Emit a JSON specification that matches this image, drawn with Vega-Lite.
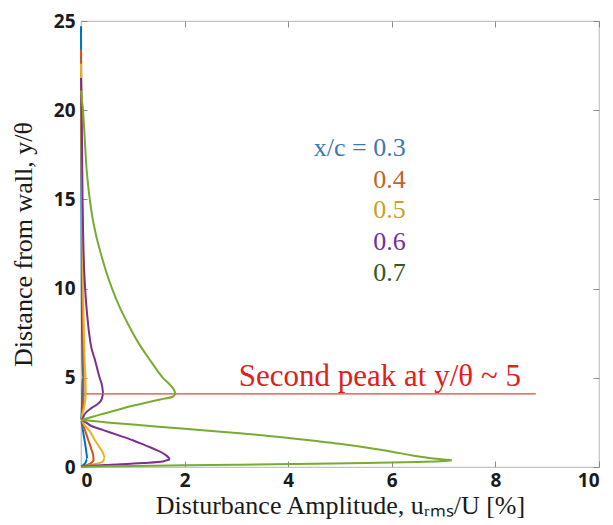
{
  "$schema": "https://vega.github.io/schema/vega-lite/v6.json",
  "autosize": {"type": "none"},
  "padding": {"left": 81, "top": 21, "right": 14, "bottom": 58},
  "width": 518,
  "height": 446,
  "background": "white",
  "view": {"stroke": "#c4c4c4", "strokeWidth": 1.2},
  "config": {
    "axis": {
      "grid": false,
      "domainColor": "#c4c4c4",
      "domainWidth": 1.2,
      "tickColor": "#8a8a8a",
      "tickSize": -6,
      "labelFont": "Open Sans",
      "labelFontWeight": "bold",
      "labelFontSize": 19,
      "labelColor": "#1a1a1a",
      "titleFont": "Liberation Serif",
      "titleFontWeight": "normal",
      "titleFontSize": 26,
      "titleColor": "#1a1a1a"
    }
  },
  "datasets": {
    "curves": [
      {"s": "0.3", "i": 0, "x": 0, "y": 24.7},
      {"s": "0.3", "i": 1, "x": 0.005, "y": 18},
      {"s": "0.3", "i": 2, "x": 0.015, "y": 10},
      {"s": "0.3", "i": 3, "x": 0.03, "y": 5},
      {"s": "0.3", "i": 4, "x": 0.02, "y": 3.5},
      {"s": "0.3", "i": 5, "x": 0, "y": 2.62},
      {"s": "0.3", "i": 6, "x": 0.04, "y": 2.0},
      {"s": "0.3", "i": 7, "x": 0.08, "y": 1.3},
      {"s": "0.3", "i": 8, "x": 0.11, "y": 0.7},
      {"s": "0.3", "i": 9, "x": 0.12, "y": 0.45},
      {"s": "0.3", "i": 10, "x": 0.08, "y": 0.2},
      {"s": "0.3", "i": 11, "x": 0, "y": 0.03},

      {"s": "0.4", "i": 0, "x": 0, "y": 23.4},
      {"s": "0.4", "i": 1, "x": 0.01, "y": 18},
      {"s": "0.4", "i": 2, "x": 0.03, "y": 10},
      {"s": "0.4", "i": 3, "x": 0.05, "y": 5},
      {"s": "0.4", "i": 4, "x": 0.05, "y": 4},
      {"s": "0.4", "i": 5, "x": 0.03, "y": 3.2},
      {"s": "0.4", "i": 6, "x": 0, "y": 2.62},
      {"s": "0.4", "i": 7, "x": 0.06, "y": 2.2},
      {"s": "0.4", "i": 8, "x": 0.13, "y": 1.6},
      {"s": "0.4", "i": 9, "x": 0.2, "y": 1.0},
      {"s": "0.4", "i": 10, "x": 0.24, "y": 0.55},
      {"s": "0.4", "i": 11, "x": 0.24, "y": 0.35},
      {"s": "0.4", "i": 12, "x": 0.15, "y": 0.15},
      {"s": "0.4", "i": 13, "x": 0, "y": 0.03},

      {"s": "0.5", "i": 0, "x": 0, "y": 22.6},
      {"s": "0.5", "i": 1, "x": 0.01, "y": 20},
      {"s": "0.5", "i": 2, "x": 0.02, "y": 15},
      {"s": "0.5", "i": 3, "x": 0.04, "y": 10},
      {"s": "0.5", "i": 4, "x": 0.07, "y": 6},
      {"s": "0.5", "i": 5, "x": 0.09, "y": 4.5},
      {"s": "0.5", "i": 6, "x": 0.09, "y": 4},
      {"s": "0.5", "i": 7, "x": 0.07, "y": 3.5},
      {"s": "0.5", "i": 8, "x": 0.03, "y": 3.0},
      {"s": "0.5", "i": 9, "x": 0, "y": 2.62},
      {"s": "0.5", "i": 10, "x": 0.08, "y": 2.3},
      {"s": "0.5", "i": 11, "x": 0.17, "y": 2.0},
      {"s": "0.5", "i": 12, "x": 0.27, "y": 1.5},
      {"s": "0.5", "i": 13, "x": 0.36, "y": 1.1},
      {"s": "0.5", "i": 14, "x": 0.43, "y": 0.75},
      {"s": "0.5", "i": 15, "x": 0.46, "y": 0.5},
      {"s": "0.5", "i": 16, "x": 0.42, "y": 0.3},
      {"s": "0.5", "i": 17, "x": 0.25, "y": 0.15},
      {"s": "0.5", "i": 18, "x": 0.05, "y": 0.05},
      {"s": "0.5", "i": 19, "x": 0, "y": 0.03},

      {"s": "0.6", "i": 0, "x": 0, "y": 21.8},
      {"s": "0.6", "i": 1, "x": 0.01, "y": 20},
      {"s": "0.6", "i": 2, "x": 0.02, "y": 18},
      {"s": "0.6", "i": 3, "x": 0.03, "y": 15},
      {"s": "0.6", "i": 4, "x": 0.05, "y": 12},
      {"s": "0.6", "i": 5, "x": 0.08, "y": 10},
      {"s": "0.6", "i": 6, "x": 0.12, "y": 8.5},
      {"s": "0.6", "i": 7, "x": 0.18, "y": 7},
      {"s": "0.6", "i": 8, "x": 0.27, "y": 6},
      {"s": "0.6", "i": 9, "x": 0.36, "y": 5},
      {"s": "0.6", "i": 10, "x": 0.41, "y": 4.5},
      {"s": "0.6", "i": 11, "x": 0.43, "y": 4.1},
      {"s": "0.6", "i": 12, "x": 0.4, "y": 3.8},
      {"s": "0.6", "i": 13, "x": 0.33, "y": 3.55},
      {"s": "0.6", "i": 14, "x": 0.2, "y": 3.3},
      {"s": "0.6", "i": 15, "x": 0.08, "y": 3.0},
      {"s": "0.6", "i": 16, "x": 0, "y": 2.62},
      {"s": "0.6", "i": 17, "x": 0.2, "y": 2.3},
      {"s": "0.6", "i": 18, "x": 0.43, "y": 2.07},
      {"s": "0.6", "i": 19, "x": 0.7, "y": 1.8},
      {"s": "0.6", "i": 20, "x": 1.0, "y": 1.5},
      {"s": "0.6", "i": 21, "x": 1.25, "y": 1.2},
      {"s": "0.6", "i": 22, "x": 1.46, "y": 0.95},
      {"s": "0.6", "i": 23, "x": 1.62, "y": 0.7},
      {"s": "0.6", "i": 24, "x": 1.7, "y": 0.5},
      {"s": "0.6", "i": 25, "x": 1.72, "y": 0.42},
      {"s": "0.6", "i": 26, "x": 1.6, "y": 0.32},
      {"s": "0.6", "i": 27, "x": 1.2, "y": 0.22},
      {"s": "0.6", "i": 28, "x": 0.7, "y": 0.14},
      {"s": "0.6", "i": 29, "x": 0.3, "y": 0.09},
      {"s": "0.6", "i": 30, "x": 0, "y": 0.05},

      {"s": "0.7", "i": 0, "x": 0, "y": 21.1},
      {"s": "0.7", "i": 1, "x": 0.02, "y": 20.5},
      {"s": "0.7", "i": 2, "x": 0.04, "y": 20},
      {"s": "0.7", "i": 3, "x": 0.06, "y": 19},
      {"s": "0.7", "i": 4, "x": 0.08, "y": 18},
      {"s": "0.7", "i": 5, "x": 0.1, "y": 17},
      {"s": "0.7", "i": 6, "x": 0.13, "y": 16},
      {"s": "0.7", "i": 7, "x": 0.17, "y": 15},
      {"s": "0.7", "i": 8, "x": 0.22, "y": 14},
      {"s": "0.7", "i": 9, "x": 0.29, "y": 13},
      {"s": "0.7", "i": 10, "x": 0.38, "y": 12},
      {"s": "0.7", "i": 11, "x": 0.48, "y": 11},
      {"s": "0.7", "i": 12, "x": 0.6, "y": 10},
      {"s": "0.7", "i": 13, "x": 0.74, "y": 9},
      {"s": "0.7", "i": 14, "x": 0.91, "y": 8},
      {"s": "0.7", "i": 15, "x": 1.1, "y": 7},
      {"s": "0.7", "i": 16, "x": 1.33, "y": 6},
      {"s": "0.7", "i": 17, "x": 1.45, "y": 5.5},
      {"s": "0.7", "i": 18, "x": 1.58, "y": 5},
      {"s": "0.7", "i": 19, "x": 1.72, "y": 4.6},
      {"s": "0.7", "i": 20, "x": 1.8, "y": 4.3},
      {"s": "0.7", "i": 21, "x": 1.83, "y": 4.1},
      {"s": "0.7", "i": 22, "x": 1.78, "y": 3.95},
      {"s": "0.7", "i": 23, "x": 1.55, "y": 3.8},
      {"s": "0.7", "i": 24, "x": 1.25, "y": 3.6},
      {"s": "0.7", "i": 25, "x": 0.95, "y": 3.4},
      {"s": "0.7", "i": 26, "x": 0.7, "y": 3.2},
      {"s": "0.7", "i": 27, "x": 0.45, "y": 3.0},
      {"s": "0.7", "i": 28, "x": 0.2, "y": 2.8},
      {"s": "0.7", "i": 29, "x": 0.03, "y": 2.65},
      {"s": "0.7", "i": 30, "x": 0, "y": 2.62},
      {"s": "0.7", "i": 31, "x": 0.5, "y": 2.5},
      {"s": "0.7", "i": 32, "x": 1, "y": 2.38},
      {"s": "0.7", "i": 33, "x": 2, "y": 2.14},
      {"s": "0.7", "i": 34, "x": 3, "y": 1.9},
      {"s": "0.7", "i": 35, "x": 3.5, "y": 1.78},
      {"s": "0.7", "i": 36, "x": 4, "y": 1.63},
      {"s": "0.7", "i": 37, "x": 4.5, "y": 1.47},
      {"s": "0.7", "i": 38, "x": 5, "y": 1.3},
      {"s": "0.7", "i": 39, "x": 5.5, "y": 1.09},
      {"s": "0.7", "i": 40, "x": 6, "y": 0.86},
      {"s": "0.7", "i": 41, "x": 6.4, "y": 0.65},
      {"s": "0.7", "i": 42, "x": 6.8, "y": 0.48},
      {"s": "0.7", "i": 43, "x": 7.1, "y": 0.4},
      {"s": "0.7", "i": 44, "x": 7.16, "y": 0.38},
      {"s": "0.7", "i": 45, "x": 7.0, "y": 0.33},
      {"s": "0.7", "i": 46, "x": 6.5, "y": 0.28},
      {"s": "0.7", "i": 47, "x": 5.5, "y": 0.22},
      {"s": "0.7", "i": 48, "x": 4.5, "y": 0.18},
      {"s": "0.7", "i": 49, "x": 3, "y": 0.13},
      {"s": "0.7", "i": 50, "x": 2, "y": 0.1},
      {"s": "0.7", "i": 51, "x": 1, "y": 0.06},
      {"s": "0.7", "i": 52, "x": 0.3, "y": 0.03},
      {"s": "0.7", "i": 53, "x": 0, "y": 0.02}
    ],
    "legendText": [
      {"s": "0.3", "label": "x/c = 0.3", "x": 6.27, "y": 17.9},
      {"s": "0.4", "label": "0.4", "x": 6.27, "y": 16.1},
      {"s": "0.5", "label": "0.5", "x": 6.27, "y": 14.4},
      {"s": "0.6", "label": "0.6", "x": 6.27, "y": 12.6},
      {"s": "0.7", "label": "0.7", "x": 6.27, "y": 10.9}
    ],
    "peak": [
      {"x": 0, "x2": 8.78, "y": 4.1, "label": "Second peak at y/θ ~ 5", "tx": 5.77}
    ]
  },
  "layer": [
    {
      "data": {"name": "peak"},
      "mark": {"type": "rule", "color": "#e8403a", "strokeWidth": 1.3},
      "encoding": {
        "x": {"field": "x", "type": "quantitative", "axis": null},
        "x2": {"field": "x2"},
        "y": {"field": "y", "type": "quantitative", "axis": null}
      }
    },
    {
      "data": {"name": "curves"},
      "mark": {"type": "line", "strokeWidth": 2, "interpolate": "monotone"},
      "encoding": {
        "x": {
          "field": "x", "type": "quantitative",
          "scale": {"domain": [0, 10], "nice": false, "zero": false},
          "axis": {"orient": "bottom", "values": [0, 2, 4, 6, 8, 10], "labelPadding": 10, "titlePadding": 2,
                   "title": "Disturbance Amplitude, uᵣₘₛ/U [%]"}
        },
        "y": {
          "field": "y", "type": "quantitative",
          "scale": {"domain": [0, 25], "nice": false, "zero": false},
          "axis": {"orient": "left", "values": [0, 5, 10, 15, 20, 25], "labelPadding": 12, "titlePadding": 17,
                   "title": "Distance from wall, y/θ"}
        },
        "color": {
          "field": "s", "type": "nominal", "legend": null,
          "scale": {"domain": ["0.3", "0.4", "0.5", "0.6", "0.7"],
                    "range": ["#0072BD", "#D95319", "#EDB120", "#7E2F8E", "#77AC30"]}
        },
        "order": {"field": "i", "type": "quantitative"}
      }
    },
    {
      "data": {"name": "peak"},
      "mark": {"type": "point", "opacity": 0},
      "encoding": {
        "x": {"field": "x", "type": "quantitative",
              "axis": {"orient": "top", "values": [0, 2, 4, 6, 8, 10], "labels": false, "title": null, "domain": false}},
        "y": {"field": "y", "type": "quantitative",
              "axis": {"orient": "right", "values": [0, 5, 10, 15, 20, 25], "labels": false, "title": null, "domain": false}}
      }
    },
    {
      "data": {"name": "legendText"},
      "mark": {"type": "text", "align": "right", "baseline": "middle", "font": "Liberation Serif", "fontSize": 26},
      "encoding": {
        "x": {"field": "x", "type": "quantitative", "axis": null},
        "y": {"field": "y", "type": "quantitative", "axis": null},
        "text": {"field": "label"},
        "color": {
          "field": "s", "type": "nominal", "legend": null,
          "scale": {"domain": ["0.3", "0.4", "0.5", "0.6", "0.7"],
                    "range": ["#3a78b4", "#c0622a", "#c9a227", "#7030a0", "#375623"]}
        }
      }
    },
    {
      "data": {"name": "peak"},
      "mark": {"type": "text", "align": "center", "baseline": "alphabetic", "font": "Liberation Serif", "fontSize": 31, "color": "#e0201a"},
      "encoding": {
        "x": {"field": "tx", "type": "quantitative", "axis": null},
        "y": {"field": "y", "type": "quantitative", "axis": null},
        "yOffset": {"value": -8},
        "text": {"field": "label"}
      }
    }
  ],
  "resolve": {"scale": {"color": "independent"}, "axis": {"x": "independent", "y": "independent"}}
}
